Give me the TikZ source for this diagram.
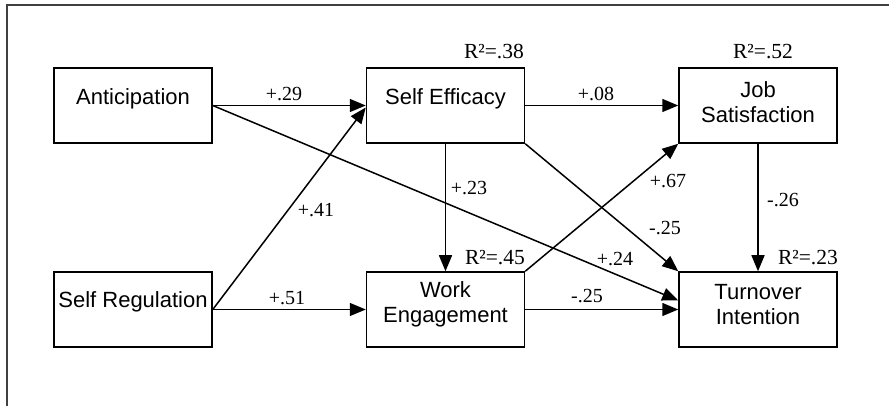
\documentclass[tikz,border=0pt]{standalone}
\usepackage{fontspec}
\setmainfont{Liberation Serif}
\newfontfamily\arialf{Liberation Sans}
\usetikzlibrary{arrows.meta}
\begin{document}
\begin{tikzpicture}[x=1pt,y=-1pt,
  box/.style={draw,line width=1.5pt,minimum width=158pt,minimum height=75pt,inner sep=0pt,fill=white},
  boxtext/.style={inner sep=0pt,align=center,font=\arialf\fontsize{22}{25}\selectfont},
  coef/.style={inner sep=0pt,font=\fontsize{20}{22}\selectfont},
  rsq/.style={inner sep=0pt,font=\fontsize{21.5}{23}\selectfont},
  arr/.style={line width=1.5pt,-{Triangle[length=16pt,width=13pt]}},
  frame/.style={line width=2.5pt,draw=black!75}]
\useasboundingbox (0,0) rectangle (889,406);
\coordinate (f1) at (7,406);
\coordinate (f2) at (7,5);
\coordinate (f3) at (889,5);
\draw[frame] (f1) -- (f2) -- (f3);
% boxes
\node[box] (ant) at (133,105.5) {};
\node[box] (se) at (445.5,105.5) {};
\node[box] (js) at (758,105.5) {};
\node[box] (sr) at (133,309.5) {};
\node[box] (we) at (445.5,309.5) {};
\node[box] (ti) at (758,309.5) {};
% box texts
\node[boxtext] (antT) at (133,99) {Anticipation};
\node[boxtext] (seT) at (445.5,99) {Self Efficacy};
\node[boxtext] (jsT) at (758,102) {Job\\Satisfaction};
\node[boxtext] (srT) at (133,302) {Self Regulation};
\node[boxtext] (weT) at (445.5,304) {Work\\Engagement};
\node[boxtext] (tiT) at (758,305) {Turnover\\Intention};
% R squared
\node[rsq,anchor=east] (r1) at (524,52) {R²=.38};
\node[rsq] (r2) at (763,52) {R²=.52};
\node[rsq,anchor=east] (r3) at (525,258) {R²=.45};
\node[rsq,anchor=east] (r4) at (838,258) {R²=.23};
% connectors
\draw[arr] (ant.east) -- (se.west);
\draw[arr] (ant.east) -- ([yshift=9pt]ti.west);
\draw[arr] (sr.east) -- ([yshift=-2pt]se.west);
\draw[arr] (sr.east) -- (we.west);
\draw[arr] (se.east) -- (js.west);
\draw[arr] (se.south) -- (we.north);
\draw[arr] (se.south east) -- (ti.north west);
\draw[arr] (we.north east) -- (js.south west);
\draw[arr] (js.south) -- (ti.north);
\draw[arr] (we.east) -- (ti.west);
% coefficients
\node[coef] (c1) at (284,94) {+.29};
\node[coef] (c2) at (596,94) {+.08};
\node[coef] (c3) at (469,188) {+.23};
\node[coef] (c4) at (668,181) {+.67};
\node[coef] (c5) at (783,200) {-.26};
\node[coef] (c6) at (665,228) {-.25};
\node[coef] (c7) at (615,259) {+.24};
\node[coef] (c8) at (587,296) {-.25};
\node[coef] (c9) at (316,210) {+.41};
\node[coef] (c10) at (287,298) {+.51};
\end{tikzpicture}
\end{document}
